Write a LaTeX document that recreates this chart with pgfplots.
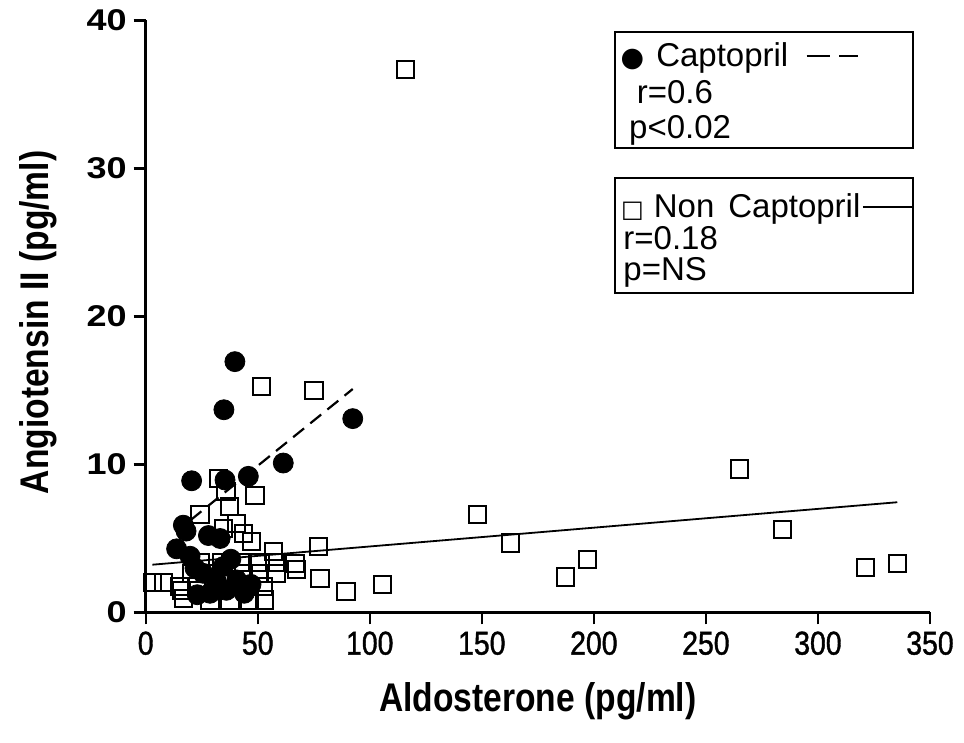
\documentclass[border=0pt]{standalone}
\usepackage{fontspec}
\setmainfont{Liberation Sans}
\newfontfamily\narrowbf[FakeStretch=0.84]{Liberation Sans Bold}
\newfontfamily\narrow[FakeStretch=0.86,FakeBold=1.2]{Liberation Sans}
\newfontfamily\widebf[FakeStretch=1.2]{Liberation Sans Bold}
\newfontfamily\dejavu{DejaVu Sans}
\usepackage{pgfplots}
\pgfplotsset{compat=1.18}

\begin{document}
\begin{tikzpicture}
\begin{axis}[
    scale only axis,
    width=392.15pt, height=296pt,
    xmin=0, xmax=350, ymin=0, ymax=40,
    axis lines=left,
    axis line style={line width=1.3pt, -},
    every tick/.style={line width=1.1pt, black},
    tick align=outside,
    major tick length=6pt,
    xtick={0,50,...,350},
    ytick={0,10,...,40},
    /pgf/number format/assume math mode=true,
    x tick label style={font=\narrow\fontsize{16.5}{16.5}\selectfont},
    y tick label style={font=\widebf\fontsize{15}{15}\selectfont},
    xlabel={Aldosterone (pg/ml)},
    ylabel={Angiotensin II (pg/ml)},
    xlabel style={font=\narrowbf\fontsize{20}{20}\selectfont, at={(axis description cs:0.5,0)}, anchor=base, yshift=-49.75pt},
    ylabel style={font=\narrowbf\fontsize{20}{20}\selectfont, at={(axis description cs:0,0.49)}, anchor=center, rotate=0, yshift=53.8pt},
    clip=false,
]
% Captopril
\addplot[only marks, mark=*, mark size=5pt, black] coordinates {
(13.8,4.3) (16.8,5.9) (18,5.5) (20.5,8.9) (19.8,3.8) (22,3.0)
(25.6,2.65) (28,5.2) (33.2,5.0) (34.6,3.1) (28.7,1.3) (40.6,2.2)
(34.9,13.7) (35.4,8.95) (39.8,16.95) (45.8,9.2) (61.4,10.1) (92.4,13.1)
(36,1.5) (44,1.3) (23,1.2) (31,2.3) (38,3.6) (47,1.9)
};
% Non Captopril
\addplot[only marks, mark=square, mark size=4.3pt, mark options={line width=1pt}, black] coordinates {
(3,2.0) (8,2.0) (16,1.5) (16.8,0.95) (15.3,1.75) (22.7,1.75) (20.5,2.65)
(24.2,3.4) (24.2,6.6) (28.7,0.85) (29.5,2.65) (31.6,1.75) (32.4,9.07)
(33.9,3.4) (35.8,8.2) (37.3,7.15) (37.6,0.85) (36.1,2.65) (34.6,5.7)
(40.6,6.0) (40.6,1.75) (42.1,3.4) (43.5,2.65) (43.6,5.35) (46.5,0.85)
(47.3,4.8) (48.8,7.9) (50.2,2.65) (51,3.4) (52.5,1.75) (53,0.85)
(57,4.1) (57.7,3.4) (58.4,2.65) (66.6,3.3) (67.4,2.9) (77,4.45)
(77.8,2.3) (89.4,1.4) (105.6,1.9) (116,36.7) (51.7,15.25) (75.1,15.0)
(148,6.6) (162.9,4.7) (187.4,2.4) (197.2,3.6) (264.9,9.7) (284.2,5.6)
(321.3,3.06) (335.4,3.3)
};
% regression lines
\addplot[black, line width=1.1pt, dash pattern=on 7pt off 4pt] coordinates {(20,6.24) (92.4,15.1)};
\addplot[black, line width=0.9pt] coordinates {(3,3.23) (335.4,7.45)};

% legend boxes
\draw[line width=1pt] (axis cs:209.4,39.24) rectangle (axis cs:342.4,31.4);
\draw[line width=1pt] (axis cs:209.4,29.36) rectangle (axis cs:342.4,21.6);
\node[anchor=base west, inner sep=0pt, font=\fontsize{16.5}{16.5}\selectfont] at (axis cs:211.8,36.9) {{\dejavu\fontsize{13.5}{13.5}\selectfont ●}\hspace{6pt}Captopril};
\draw[line width=1pt] (axis cs:294.9,37.6) -- (axis cs:305.5,37.6);
\draw[line width=1pt] (axis cs:309.5,37.6) -- (axis cs:318.0,37.6);
\node[anchor=base west, inner sep=0pt, font=\fontsize{16.5}{16.5}\selectfont] at (axis cs:219,34.4) {r=0.6};
\node[anchor=base west, inner sep=0pt, font=\fontsize{16.5}{16.5}\selectfont] at (axis cs:215.6,32.05) {p<0.02};
\node[anchor=base west, inner sep=0pt, font=\fontsize{16.5}{16.5}\selectfont] at (axis cs:212,26.7) {{\dejavu\fontsize{12}{12}\selectfont □}\hspace{5pt}Non\hspace{7pt}Captopril};
\draw[line width=0.9pt] (axis cs:320,27.4) -- (axis cs:342.4,27.4);
\node[anchor=base west, inner sep=0pt, font=\fontsize{16.5}{16.5}\selectfont] at (axis cs:213,24.5) {r=0.18};
\node[anchor=base west, inner sep=0pt, font=\fontsize{16.5}{16.5}\selectfont] at (axis cs:213,22.4) {p=NS};

\coordinate (ll) at (rel axis cs:0,0);
\coordinate (ur) at (rel axis cs:1,1);
\end{axis}
\pgfresetboundingbox
\path ([shift={(-72.85pt,-65.25pt)}]ll) rectangle ([shift={(17pt,10.25pt)}]ur);
\end{tikzpicture}
\end{document}
